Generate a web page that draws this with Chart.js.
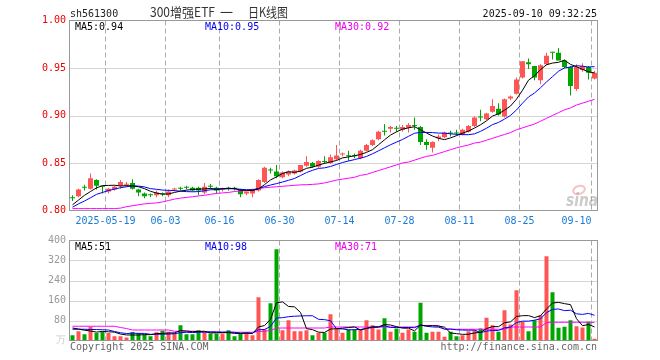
<!DOCTYPE html>
<html>
<head>
<meta charset="utf-8">
<script src="https://cdn.jsdelivr.net/npm/chart.js@4.4.1/dist/chart.umd.min.js"></script>
<style>
  html, body { margin: 0; padding: 0; background: #fff; }
  #wrap { position: relative; width: 660px; height: 360px; overflow: hidden; }
  #wrap canvas { position: absolute; left: 0; }
  #kline { top: 0; }
  #vol { top: 230px; }
</style>
</head>
<body>
<div id="wrap">
  <canvas id="kline" width="660" height="230"></canvas>
  <canvas id="vol" width="660" height="130"></canvas>
</div>
<script>
const dates = [
  '2025-05-09','2025-05-12','2025-05-13','2025-05-14','2025-05-15','2025-05-16','2025-05-19','2025-05-20','2025-05-21','2025-05-22',
  '2025-05-23','2025-05-26','2025-05-27','2025-05-28','2025-05-29','2025-05-30','2025-06-03','2025-06-04','2025-06-05','2025-06-06',
  '2025-06-09','2025-06-10','2025-06-11','2025-06-12','2025-06-13','2025-06-16','2025-06-17','2025-06-18','2025-06-19','2025-06-20',
  '2025-06-23','2025-06-24','2025-06-25','2025-06-26','2025-06-27','2025-06-30','2025-07-01','2025-07-02','2025-07-03','2025-07-04',
  '2025-07-07','2025-07-08','2025-07-09','2025-07-10','2025-07-11','2025-07-14','2025-07-15','2025-07-16','2025-07-17','2025-07-18',
  '2025-07-21','2025-07-22','2025-07-23','2025-07-24','2025-07-25','2025-07-28','2025-07-29','2025-07-30','2025-07-31','2025-08-01',
  '2025-08-04','2025-08-05','2025-08-06','2025-08-07','2025-08-08','2025-08-11','2025-08-12','2025-08-13','2025-08-14','2025-08-15',
  '2025-08-18','2025-08-19','2025-08-20','2025-08-21','2025-08-22','2025-08-25','2025-08-26','2025-08-27','2025-08-28','2025-08-29',
  '2025-09-01','2025-09-02','2025-09-03','2025-09-04','2025-09-05','2025-09-08','2025-09-09','2025-09-10'
];
const axisDates = ['2025-05-19','2025-06-03','2025-06-16','2025-06-30','2025-07-14','2025-07-28','2025-08-11','2025-08-25','2025-09-10'];

const open = [
  0.814,0.815,0.825,0.823,0.832,0.826,0.820,0.822,0.826,0.827,
  0.829,0.822,0.818,0.817,0.816,0.818,0.816,0.822,0.824,0.825,
  0.824,0.824,0.819,0.826,0.824,0.822,0.824,0.824,0.822,0.818,
  0.818,0.821,0.830,0.843,0.841,0.835,0.838,0.839,0.841,0.847,
  0.850,0.846,0.852,0.850,0.854,0.859,0.858,0.858,0.855,0.863,
  0.869,0.875,0.884,0.886,0.887,0.885,0.887,0.890,0.888,0.872,
  0.866,0.876,0.877,0.882,0.882,0.880,0.883,0.889,0.899,0.896,
  0.904,0.907,0.899,0.918,0.923,0.940,0.956,0.952,0.937,0.954,
  0.967,0.966,0.958,0.951,0.928,0.948,0.951,0.939
];
const high = [
  0.816,0.823,0.827,0.839,0.833,0.826,0.824,0.826,0.832,0.830,
  0.833,0.823,0.819,0.818,0.821,0.819,0.822,0.824,0.825,0.826,
  0.825,0.825,0.829,0.828,0.825,0.824,0.825,0.825,0.823,0.820,
  0.823,0.833,0.846,0.845,0.848,0.841,0.842,0.843,0.848,0.857,
  0.851,0.853,0.857,0.859,0.869,0.861,0.863,0.860,0.864,0.870,
  0.875,0.884,0.891,0.889,0.889,0.890,0.892,0.898,0.889,0.875,
  0.873,0.880,0.883,0.884,0.885,0.886,0.890,0.899,0.906,0.903,
  0.917,0.913,0.918,0.921,0.940,0.957,0.960,0.952,0.954,0.966,
  0.967,0.971,0.959,0.952,0.954,0.955,0.952,0.947
];
const low = [
  0.810,0.814,0.821,0.822,0.822,0.818,0.818,0.821,0.823,0.825,
  0.822,0.815,0.813,0.814,0.814,0.815,0.814,0.820,0.821,0.822,
  0.820,0.816,0.817,0.823,0.818,0.820,0.821,0.821,0.814,0.816,
  0.814,0.820,0.829,0.839,0.834,0.834,0.836,0.838,0.840,0.846,
  0.845,0.845,0.849,0.849,0.853,0.857,0.852,0.855,0.854,0.862,
  0.868,0.874,0.879,0.882,0.883,0.883,0.882,0.885,0.869,0.864,
  0.861,0.873,0.876,0.878,0.879,0.879,0.882,0.888,0.894,0.895,
  0.903,0.900,0.898,0.916,0.922,0.939,0.949,0.937,0.933,0.953,
  0.959,0.958,0.950,0.921,0.926,0.946,0.938,0.938
];
const close = [
  0.813,0.822,0.824,0.834,0.826,0.825,0.823,0.825,0.830,0.828,
  0.823,0.819,0.815,0.816,0.819,0.817,0.820,0.823,0.823,0.824,
  0.821,0.821,0.825,0.825,0.821,0.823,0.823,0.823,0.817,0.820,
  0.822,0.832,0.845,0.842,0.836,0.840,0.841,0.842,0.848,0.851,
  0.846,0.852,0.851,0.856,0.858,0.860,0.857,0.857,0.863,0.869,
  0.874,0.883,0.883,0.888,0.886,0.888,0.890,0.889,0.872,0.869,
  0.872,0.878,0.882,0.881,0.881,0.885,0.889,0.898,0.898,0.902,
  0.910,0.901,0.917,0.920,0.938,0.957,0.954,0.940,0.953,0.963,
  0.966,0.958,0.951,0.931,0.951,0.952,0.945,0.945
];

const ma5 = [
  0.806,0.811,0.816,0.820,0.8238,0.8262,0.8264,0.8266,0.8258,0.8262,
  0.8258,0.825,0.823,0.8202,0.8184,0.8172,0.8174,0.819,0.8204,0.8214,
  0.8222,0.8224,0.8228,0.8232,0.8226,0.823,0.8234,0.823,0.8214,0.8212,
  0.821,0.8228,0.8272,0.8322,0.8354,0.839,0.8408,0.8402,0.8414,0.8444,
  0.8456,0.8478,0.8496,0.8512,0.8526,0.8554,0.8564,0.8576,0.859,0.8612,
  0.864,0.8692,0.8744,0.8794,0.8828,0.8856,0.887,0.8882,0.885,0.8816,
  0.8784,0.876,0.8746,0.8764,0.8788,0.8814,0.8836,0.8868,0.8902,0.8944,
  0.8994,0.9018,0.9056,0.910,0.9172,0.9266,0.9372,0.9418,0.9484,0.9534,
  0.9552,0.956,0.9582,0.9538,0.9514,0.9486,0.946,0.9448
];
const ma10 = [
  0.8035,0.807,0.810,0.8134,0.817,0.819,0.821,0.8225,0.824,0.825,
  0.826,0.8257,0.8248,0.823,0.8223,0.8215,0.8212,0.821,0.8203,0.8199,
  0.8197,0.8199,0.8209,0.8218,0.822,0.8226,0.8229,0.8229,0.8223,0.8219,
  0.822,0.8231,0.8251,0.8268,0.8283,0.830,0.8318,0.8337,0.8368,0.8399,
  0.8423,0.8443,0.8449,0.8463,0.8485,0.8505,0.8521,0.8536,0.8551,0.8569,
  0.8597,0.8628,0.866,0.8692,0.872,0.8748,0.8781,0.8813,0.8822,0.8822,
  0.882,0.8815,0.8814,0.8807,0.8802,0.8799,0.8798,0.8807,0.8833,0.8866,
  0.8904,0.8927,0.8962,0.9001,0.9058,0.913,0.9195,0.9237,0.9292,0.9353,
  0.9409,0.9466,0.950,0.9511,0.9524,0.9519,0.951,0.9515
];
const ma30 = [
  0.802,0.802,0.802,0.802,0.802,0.802,0.802,0.802,0.8025,0.804,
  0.805,0.806,0.807,0.8075,0.808,0.809,0.8105,0.812,0.813,0.8138,
  0.8145,0.8153,0.816,0.817,0.818,0.8185,0.819,0.820,0.8205,0.821,
  0.8215,0.823,0.824,0.8245,0.825,0.8255,0.826,0.8265,0.827,0.8272,
  0.8275,0.828,0.829,0.8305,0.832,0.833,0.834,0.835,0.837,0.838,
  0.840,0.842,0.844,0.846,0.848,0.850,0.851,0.853,0.855,0.857,
  0.858,0.860,0.862,0.864,0.866,0.8675,0.869,0.871,0.872,0.874,
  0.876,0.878,0.880,0.882,0.885,0.887,0.889,0.891,0.894,0.897,
  0.900,0.903,0.906,0.908,0.911,0.913,0.915,0.917
];

// volume, 万手
const volume = [
  21,37,25,55,30,35,30,17,17,12,
  34,30,24,17,33,39,35,30,61,25,
  25,41,33,28,28,28,41,17,27,33,
  21,173,45,149,365,41,81,37,37,41,
  21,31,31,105,48,31,44,44,44,81,
  61,44,89,35,48,31,44,35,151,31,
  35,35,15,35,17,21,37,41,48,91,
  61,35,121,64,201,75,37,81,101,337,
  193,51,55,81,57,52,75,7
];
const volMa5 = [
  50,46,41,38,33.6,36.4,35.0,33.4,25.8,22.2,
  22.0,22.0,23.4,23.4,27.6,28.6,29.6,30.8,39.6,38.0,
  35.2,36.4,37.0,30.4,31.0,31.6,31.6,28.4,28.2,29.2,
  27.8,54.2,59.8,84.2,150.6,154.6,136.2,134.6,112.2,47.4,
  43.4,33.4,32.2,45.8,47.2,49.2,51.8,54.4,42.2,48.8,
  54.8,54.8,63.8,62.0,55.4,49.4,49.4,38.6,61.8,58.4,
  59.2,57.4,53.4,30.2,27.4,24.6,25.0,30.2,32.8,47.6,
  55.6,55.2,71.2,74.4,96.4,99.2,99.6,91.6,99.0,126.2,
  149.8,152.6,147.4,143.4,87.4,59.2,64.0,54.4
];
const volMa10 = [
  45,45,45,44,44,43,42,36,31,27.9,
  29.2,28.5,28.4,24.6,24.9,25.3,25.8,27.1,31.5,32.8,
  31.9,33.0,33.9,35.0,34.5,33.4,34.0,32.7,29.3,30.1,
  29.7,42.9,44.1,56.2,89.9,91.2,95.2,97.2,98.2,99.0,
  99.0,84.8,83.4,79.0,47.3,46.3,42.6,43.3,44.0,48.0,
  52.0,53.3,59.1,52.1,52.1,52.1,52.1,51.2,61.9,56.9,
  54.3,53.4,46.0,46.0,42.9,41.9,41.2,41.8,31.5,37.5,
  40.1,40.1,50.7,53.6,72.0,77.4,77.4,81.4,86.7,111.3,
  124.5,126.1,119.5,121.2,106.8,104.5,108.3,100.9
];
const volMa30 = [
  57,57,57,57,57,57,57,57,52,48,
  42,42,42,42,42,42,42,37,37,37,
  37,37,33,33,33,33,33,33,33,33,
  33,36,37,40,50,50,50,50,50,50,
  50,50,50,54,54,54,54,54,54,54,
  54,54,54,54,54,54,54,54,60,60,
  60,60,45,45,45,45,45,45,45,45,
  45,45,45,54,54,54,54,54,54,72,
  73,73,73,73,73,73,73,72
];

const UP = '#ff5555';
const DOWN = '#00a600';
const FONT = '"DejaVu Sans Mono", monospace';
const candleColor = (ctx) => close[ctx.dataIndex] >= open[ctx.dataIndex] ? UP : DOWN;

// dotted horizontal lines, dashed date lines, frame
function drawFrame(chart, levels) {
  const { ctx, chartArea: a, scales } = chart;
  ctx.save();
  ctx.lineWidth = 1;
  ctx.strokeStyle = '#aaa';
  ctx.setLineDash([1, 1]);
  levels.forEach(v => {
    const py = Math.round(scales.y.getPixelForValue(v)) + 0.5;
    ctx.beginPath(); ctx.moveTo(a.left, py); ctx.lineTo(a.right, py); ctx.stroke();
  });
  ctx.setLineDash([5, 3]);
  const half = (a.right - a.left) / dates.length / 2;
  axisDates.forEach(d => {
    const px = scales.x.getPixelForValue(dates.indexOf(d)) - half;
    ctx.beginPath(); ctx.moveTo(px, a.top); ctx.lineTo(px, a.bottom); ctx.stroke();
  });
  ctx.setLineDash([]);
  ctx.strokeStyle = '#999';
  ctx.strokeRect(a.left, a.top, a.right - a.left, a.bottom - a.top);
  ctx.restore();
}

function text(ctx, str, x, y, color, font, align, maxW) {
  ctx.fillStyle = color;
  ctx.font = font;
  ctx.textAlign = align || 'left';
  ctx.textBaseline = 'alphabetic';
  if (maxW) ctx.fillText(str, x, y, maxW); else ctx.fillText(str, x, y);
}

const klineDecor = {
  id: 'klineDecor',
  beforeDatasetsDraw(chart) {
    drawFrame(chart, [0.85, 0.90, 0.95]);
    const ctx = chart.ctx;
    ctx.save();
    ctx.strokeStyle = 'rgba(235,120,120,0.45)';
    ctx.lineWidth = 2;
    ctx.beginPath(); ctx.ellipse(579, 190, 6, 4, -0.3, 0, Math.PI * 2); ctx.stroke();
    text(ctx, 'sina', 566, 206, 'rgba(160,160,160,0.55)', 'italic bold 17px "DejaVu Sans"', 'left', 32);
    ctx.restore();
  },
  afterDraw(chart) {
    const { ctx, chartArea: a, scales } = chart;
    const mono = '10px ' + FONT;
    ctx.save();
    text(ctx, 'sh561300', 70, 17, '#222', mono);
    text(ctx, '300增强ETF', 150, 17, '#333', '13px "Noto Sans CJK SC"', 'left', 65);
    text(ctx, '一', 220, 17, '#333', '13px "Noto Sans CJK SC"');
    text(ctx, '日K线图', 248, 17, '#333', '13px "Noto Sans CJK SC"', 'left', 40);
    text(ctx, '2025-09-10 09:32:25', 597, 17, '#111', mono, 'right');
    text(ctx, 'MA5:0.94', 75, 30, '#000', mono);
    text(ctx, 'MA10:0.95', 205, 30, '#0000ee', mono);
    text(ctx, 'MA30:0.92', 335, 30, '#ee00ee', mono);
    const half = (a.right - a.left) / dates.length / 2;
    axisDates.forEach((d, i) => {
      const px = scales.x.getPixelForValue(dates.indexOf(d)) - half;
      const last = i === axisDates.length - 1;
      text(ctx, i === 0 ? d : d.slice(5), px, 224, '#1a7ad4', mono, last ? 'right' : 'center');
    });
    ctx.restore();
  }
};

const volDecor = {
  id: 'volDecor',
  beforeDatasetsDraw(chart) {
    drawFrame(chart, [80, 160, 240, 320]);
  },
  afterDraw(chart) {
    const ctx = chart.ctx;
    const mono = '10px ' + FONT;
    ctx.save();
    text(ctx, 'MA5:51', 75, 20, '#000', mono);
    text(ctx, 'MA10:98', 205, 20, '#0000ee', mono);
    text(ctx, 'MA30:71', 335, 20, '#ee00ee', mono);
    text(ctx, 'Copyright 2025 SINA.COM', 70, 120, '#666', mono);
    text(ctx, 'http://finance.sina.com.cn', 597, 120, '#666', mono, 'right');
    ctx.restore();
  }
};

const maLine = (data, color) => ({
  type: 'line', data: data, borderColor: color, borderWidth: 1,
  pointRadius: 0, tension: 0, fill: false, order: 0
});

const baseScales = (yOpts) => ({
  x: {
    offset: true,
    grid: { display: false, drawTicks: false },
    border: { display: false },
    ticks: { display: false }
  },
  y: Object.assign({
    afterFit: (s) => { s.width = 69.5; },
    grid: { display: false, drawTicks: false },
    border: { display: false }
  }, yOpts)
});

const klineConfig = {
  type: 'bar',
  data: {
    labels: dates,
    datasets: [
      maLine(ma5, '#000000'),
      maLine(ma10, '#0000ff'),
      maLine(ma30, '#ff00ff'),
      {
        data: dates.map((d, i) => [open[i], close[i]]),
        backgroundColor: candleColor, barThickness: 5, minBarLength: 1,
        grouped: false, inflateAmount: 0, borderWidth: 0, order: 1
      },
      {
        data: dates.map((d, i) => [low[i], high[i]]),
        backgroundColor: candleColor, barThickness: 1,
        grouped: false, inflateAmount: 0, borderWidth: 0, order: 2
      }
    ]
  },
  options: {
    responsive: false,
    animation: false,
    events: [],
    layout: { padding: { left: 0, right: 62.5, top: 20.5, bottom: 19.5 } },
    plugins: { legend: { display: false }, tooltip: { enabled: false } },
    scales: baseScales({
      min: 0.8, max: 1.0,
      ticks: {
        stepSize: 0.05, padding: 3.5, color: '#ee0000',
        font: { family: FONT, size: 10 },
        callback: (v) => Number(v).toFixed(2)
      }
    })
  },
  plugins: [klineDecor]
};

const volConfig = {
  type: 'bar',
  data: {
    labels: dates,
    datasets: [
      maLine(volMa5, '#000000'),
      maLine(volMa10, '#0000ff'),
      maLine(volMa30, '#ff00ff'),
      {
        data: volume,
        backgroundColor: candleColor, barThickness: 4,
        grouped: false, inflateAmount: 0, borderWidth: 0, order: 1
      }
    ]
  },
  options: {
    responsive: false,
    animation: false,
    events: [],
    layout: { padding: { left: 0, right: 62.5, top: 10.5, bottom: 19.5 } },
    plugins: { legend: { display: false }, tooltip: { enabled: false } },
    scales: baseScales({
      min: 0, max: 400,
      ticks: {
        stepSize: 80, padding: 3.5,
        color: (ctx) => (ctx.tick && ctx.tick.value === 0) ? '#cccccc' : '#999999',
        font: { family: FONT, size: 10 },
        callback: (v) => v === 0 ? '万' : String(v)
      }
    })
  },
  plugins: [volDecor]
};

new Chart(document.getElementById('kline'), klineConfig);
new Chart(document.getElementById('vol'), volConfig);
</script>
</body>
</html>
